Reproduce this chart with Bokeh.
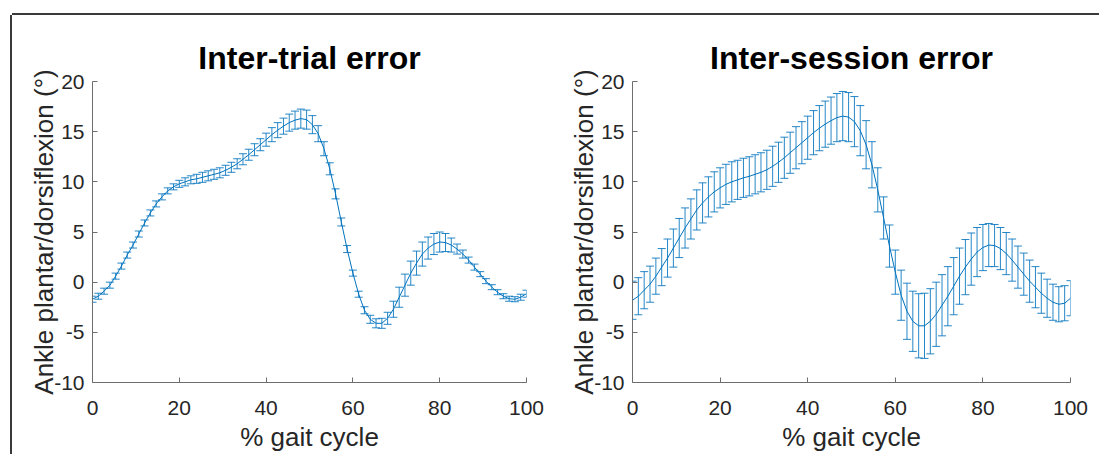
from bokeh.plotting import figure
from bokeh.layouts import row
from bokeh.models import Range1d, FixedTicker
from bokeh.embed import file_html
from bokeh.resources import INLINE

# gait cycle sample positions (76 samples across 0-100 %)
gait_pct = [i * 100.0 / 75.0 for i in range(76)]

trial_mean = [-1.7, -1.4, -0.9, -0.3, 0.6, 1.6, 2.7, 3.7, 4.8, 5.9,
              6.9, 7.8, 8.5, 9.1, 9.5, 9.8, 10.0, 10.2, 10.3, 10.45,
              10.6, 10.75, 10.9, 11.15, 11.45, 11.8, 12.25, 12.7, 13.2, 13.7,
              14.2, 14.7, 15.15, 15.55, 15.9, 16.15, 16.3, 16.2, 15.7, 14.8,
              13.3, 11.3, 8.8, 6.0, 3.3, 0.9, -1.2, -2.8, -3.7, -4.1,
              -4.1, -3.6, -2.7, -1.5, -0.3, 0.9, 1.9, 2.8, 3.4, 3.8,
              4.0, 3.95, 3.7, 3.3, 2.8, 2.2, 1.5, 0.8, 0.1, -0.5,
              -1.0, -1.4, -1.65, -1.7, -1.5, -1.15]
trial_sd = [0.3, 0.3, 0.3, 0.3, 0.3, 0.3, 0.3, 0.3, 0.3, 0.3,
            0.3, 0.3, 0.3, 0.3, 0.3, 0.35, 0.4, 0.4, 0.45, 0.5,
            0.5, 0.5, 0.5, 0.5, 0.5, 0.5, 0.55, 0.55, 0.6, 0.6,
            0.65, 0.7, 0.75, 0.8, 0.85, 0.9, 0.95, 0.95, 0.9, 0.8,
            0.7, 0.6, 0.5, 0.4, 0.35, 0.3, 0.3, 0.35, 0.4, 0.45,
            0.5, 0.6, 0.8, 1.0, 1.1, 1.2, 1.2, 1.2, 1.1, 1.05,
            1.0, 0.9, 0.7, 0.5, 0.4, 0.3, 0.3, 0.25, 0.25, 0.25,
            0.25, 0.25, 0.25, 0.25, 0.3, 0.35]

session_mean = [-1.8, -1.4, -0.8, -0.2, 0.6, 1.5, 2.4, 3.4, 4.4, 5.4,
                6.3, 7.2, 7.9, 8.5, 9.0, 9.4, 9.75, 10.0, 10.2, 10.4,
                10.55, 10.75, 10.95, 11.2, 11.55, 11.95, 12.4, 12.9, 13.4, 13.9,
                14.4, 14.9, 15.35, 15.75, 16.1, 16.4, 16.55, 16.45, 16.0, 15.1,
                13.7, 11.7, 9.2, 6.4, 3.6, 1.0, -1.3, -2.9, -3.9, -4.35,
                -4.35, -3.9, -3.2, -2.3, -1.4, -0.4, 0.6, 1.5, 2.3, 3.0,
                3.45, 3.7, 3.65, 3.35, 2.85, 2.2, 1.5, 0.8, 0.1, -0.5,
                -1.1, -1.6, -2.0, -2.2, -2.1, -1.6]
session_sd = [1.9, 1.85, 1.85, 1.8, 1.8, 1.85, 1.9, 1.9, 1.95, 2.0,
              2.0, 2.0, 2.0, 2.0, 2.0, 2.0, 2.0, 2.0, 1.95, 1.95,
              1.95, 1.95, 1.95, 1.95, 2.0, 2.0, 2.05, 2.05, 2.1, 2.1,
              2.15, 2.2, 2.25, 2.3, 2.35, 2.4, 2.45, 2.45, 2.5, 2.5,
              2.4, 2.3, 2.2, 2.1, 2.1, 2.2, 2.5, 2.8, 3.0, 3.2,
              3.25, 3.25, 3.2, 3.05, 2.95, 2.85, 2.8, 2.75, 2.6, 2.45,
              2.3, 2.15, 2.1, 2.1, 2.1, 2.1, 2.1, 2.1, 2.1, 2.05,
              2.0, 1.9, 1.8, 1.75, 1.75, 1.75]

titles = ["Inter-trial error", "Inter-session error"]
x_ticks = [0, 20, 40, 60, 80, 100]
x_tick_labels = ["0", "20", "40", "60", "80", "100"]
y_ticks = [-10, -5, 0, 5, 10, 15, 20]
y_tick_labels = ["-10", "-5", "0", "5", "10", "15", "20"]
x_label = "% gait cycle"
y_label = "Ankle plantar/dorsiflexion (°)"

BLUE = "#0072BD"
AX = "#6e6e6e"
TXT = "#262626"
FONT = "Liberation Sans"


def make_panel(title, mean, sd, width, bl, br, shadow):
    p = figure(width=width, height=439, x_range=Range1d(0, 100), y_range=Range1d(-10, 20),
               output_backend="svg", toolbar_location=None,
               min_border_left=bl, min_border_right=br, min_border_top=66, min_border_bottom=70,
               styles={"box-shadow": shadow})
    p.title.text = title
    p.title.align = "center"
    p.title.text_font = FONT
    p.title.text_font_size = "32px"
    p.title.text_font_style = "bold"
    p.title.text_color = "black"
    p.title.standoff = 12
    p.xgrid.visible = False
    p.ygrid.visible = False
    p.outline_line_color = None
    p.background_fill_color = "white"
    p.border_fill_color = "white"

    for ax in (p.xaxis[0], p.yaxis[0]):
        ax.axis_line_color = AX
        ax.axis_line_width = 1
        ax.major_tick_line_color = AX
        ax.major_tick_in = 5
        ax.major_tick_out = 0
        ax.minor_tick_line_color = None
        ax.major_label_text_font = FONT
        ax.major_label_text_font_size = "21px"
        ax.major_label_text_color = TXT
        ax.axis_label_text_font = FONT
        ax.axis_label_text_font_size = "26px"
        ax.axis_label_text_font_style = "normal"
        ax.axis_label_text_color = TXT
    p.xaxis.ticker = FixedTicker(ticks=x_ticks)
    p.yaxis.ticker = FixedTicker(ticks=y_ticks)
    p.xaxis.major_label_overrides = dict(zip(x_ticks, x_tick_labels))
    p.yaxis.major_label_overrides = dict(zip(y_ticks, y_tick_labels))
    p.xaxis.axis_label = x_label
    p.yaxis.axis_label = y_label
    p.xaxis.major_label_standoff = 18
    p.yaxis.major_label_standoff = 8
    p.xaxis.axis_label_standoff = 4
    p.yaxis.axis_label_standoff = -8

    upper = [m + s for m, s in zip(mean, sd)]
    lower = [m - s for m, s in zip(mean, sd)]
    p.segment(gait_pct, lower, gait_pct, upper, line_color=BLUE, line_width=1, line_alpha=0.85)
    p.dash(gait_pct, upper, size=8, angle=0, line_color=BLUE, line_width=1, line_alpha=0.85)
    p.dash(gait_pct, lower, size=8, angle=0, line_color=BLUE, line_width=1, line_alpha=0.85)
    p.line(gait_pct, mean, line_color=BLUE, line_width=1)
    return p


p1 = make_panel(titles[0], trial_mean, trial_sd, 536, 80, 22,
                "0 -2px 0 0 #3a3a3a, -2px 0 0 0 #3a3a3a")
p2 = make_panel(titles[1], session_mean, session_sd, 551, 84, 29,
                "0 -2px 0 0 #3a3a3a")

layout = row(p1, p2, styles={"margin-top": "15px", "margin-left": "12px"})

open("out.html", "w").write(file_html(layout, INLINE))
